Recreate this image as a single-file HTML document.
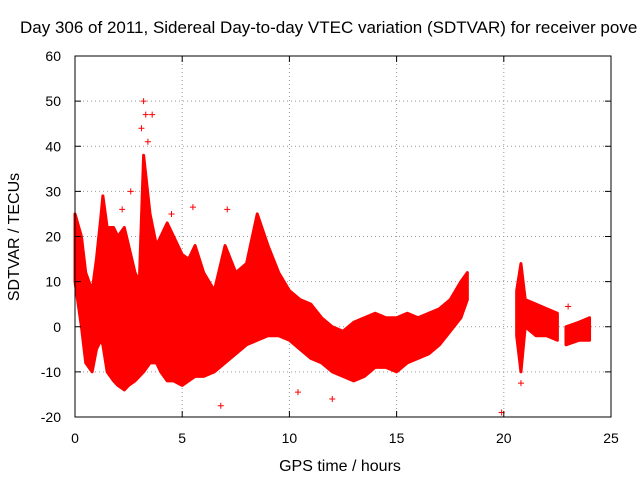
<!DOCTYPE html>
<html><head><meta charset="utf-8"><style>
body{margin:0;background:#fff}
svg{display:block;font-family:"Liberation Sans",sans-serif}
</style></head><body>
<svg id="chart" width="640" height="480">
<text x="20" y="33" font-size="17">Day 306 of 2011, Sidereal Day-to-day VTEC variation (SDTVAR) for receiver pove</text>
<g id="grid"></g>
<g id="band"></g>
<g id="axes"></g>
<text x="340" y="471" font-size="16" text-anchor="middle">GPS time / hours</text>
<text transform="translate(19,237) rotate(-90)" font-size="16" text-anchor="middle">SDTVAR / TECUs</text>
</svg>
<script>
const xTicks=[0,5,10,15,20,25];
const yTicks=[-20,-10,0,10,20,30,40,50,60];
// band envelope; null separates segments
const times=[0,0.3,0.5,0.8,1.0,1.2,1.3,1.5,1.8,2.0,2.3,2.5,2.8,3.0,3.2,3.5,3.8,4.0,4.3,4.6,5.0,5.3,5.6,6.0,6.5,7.0,7.5,8.0,8.5,9.0,9.5,10.0,10.5,11.0,11.5,12.0,12.5,13.0,13.5,14.0,14.5,15.0,15.5,16.0,16.5,17.0,17.5,18.0,18.3,null,20.6,20.8,21.0,21.5,22.0,22.5,null,22.9,23.5,24.0];
const upper=[25,20,12,8,15,24,29,22,22,20,22,18,12,10,38,25,18,20,23,20,16,15,18,12,8,18,12,14,25,18,12,8,6,5,2,0,-1,1,2,3,2,2,3,2,3,4,6,10,12,null,8,14,6,5,4,3,null,0,1,2];
const lower=[10,0,-8,-10,-5,-3,-4,-10,-12,-13,-14,-13,-12,-11,-10,-8,-8,-10,-12,-12,-13,-12,-11,-11,-10,-8,-6,-4,-3,-2,-2,-3,-5,-7,-8,-10,-11,-12,-11,-9,-9,-10,-8,-7,-6,-4,-1,2,6,null,-2,-10,0,-2,-2,-3,null,-4,-3,-3];
const outX=[6.8,10.4,12.0,19.9,3.3,3.2,3.6,2.6,2.2,5.5,7.1,20.8,3.1,3.4,4.5,23.0];
const outY=[-17.5,-14.5,-16,-19,47,50,47,30,26,26.5,26,-12.5,44,41,25,4.5];
const X=v=>75+v*(536/25), Y=v=>56+(60-v)*(361/80);
const NS='http://www.w3.org/2000/svg';
function mk(t,a,p){const e=document.createElementNS(NS,t);for(const k in a)e.setAttribute(k,a[k]);p.appendChild(e);return e;}
const grid=document.getElementById('grid'),axes=document.getElementById('axes'),band=document.getElementById('band');
xTicks.forEach(t=>{
 if(t>0&&t<25){const l=mk('line',{x1:X(t),x2:X(t),y1:56,y2:417,stroke:'#999','stroke-dasharray':'1,3'},grid);
 
 }
 const tx=mk('text',{x:X(t),y:443,'font-size':14,'text-anchor':'middle'},axes);tx.textContent=t;
 
 
 mk('line',{x1:X(t),x2:X(t),y1:417,y2:411,stroke:'#000'},axes);mk('line',{x1:X(t),x2:X(t),y1:56,y2:62,stroke:'#000'},axes);
});
yTicks.forEach(t=>{
 if(t>-20&&t<60){const l=mk('line',{x1:75,x2:611,y1:Y(t),y2:Y(t),stroke:'#999','stroke-dasharray':'1,3'},grid);
 
 }
 const tx=mk('text',{x:61,y:Y(t)+5,'font-size':14,'text-anchor':'end'},axes);tx.textContent=t;
 
 
 mk('line',{x1:75,x2:81,y1:Y(t),y2:Y(t),stroke:'#000'},axes);mk('line',{x1:611,x2:605,y1:Y(t),y2:Y(t),stroke:'#000'},axes);
});
mk('rect',{x:75,y:56,width:536,height:361,fill:'none',stroke:'#000'},axes);
let seg=[];
function flush(){if(seg.length<2){seg=[];return;}
 const pts=seg.map(i=>X(times[i])+','+Y(upper[i])).concat(seg.slice().reverse().map(i=>X(times[i])+','+Y(lower[i])));
 const p=mk('polygon',{points:pts.join(' '),fill:'#f00',stroke:'#f00','stroke-width':3,'stroke-linejoin':'round'},band);
 
 
 seg=[];}
times.forEach((t,i)=>{if(t===null)flush();else seg.push(i);});flush();
outX.forEach((x,i)=>{const g=mk('path',{d:`M${X(x)-3},${Y(outY[i])}h6M${X(x)},${Y(outY[i])-3}v6`,stroke:'#f00','stroke-width':1},band);
 
 });
</script>
</body></html>
